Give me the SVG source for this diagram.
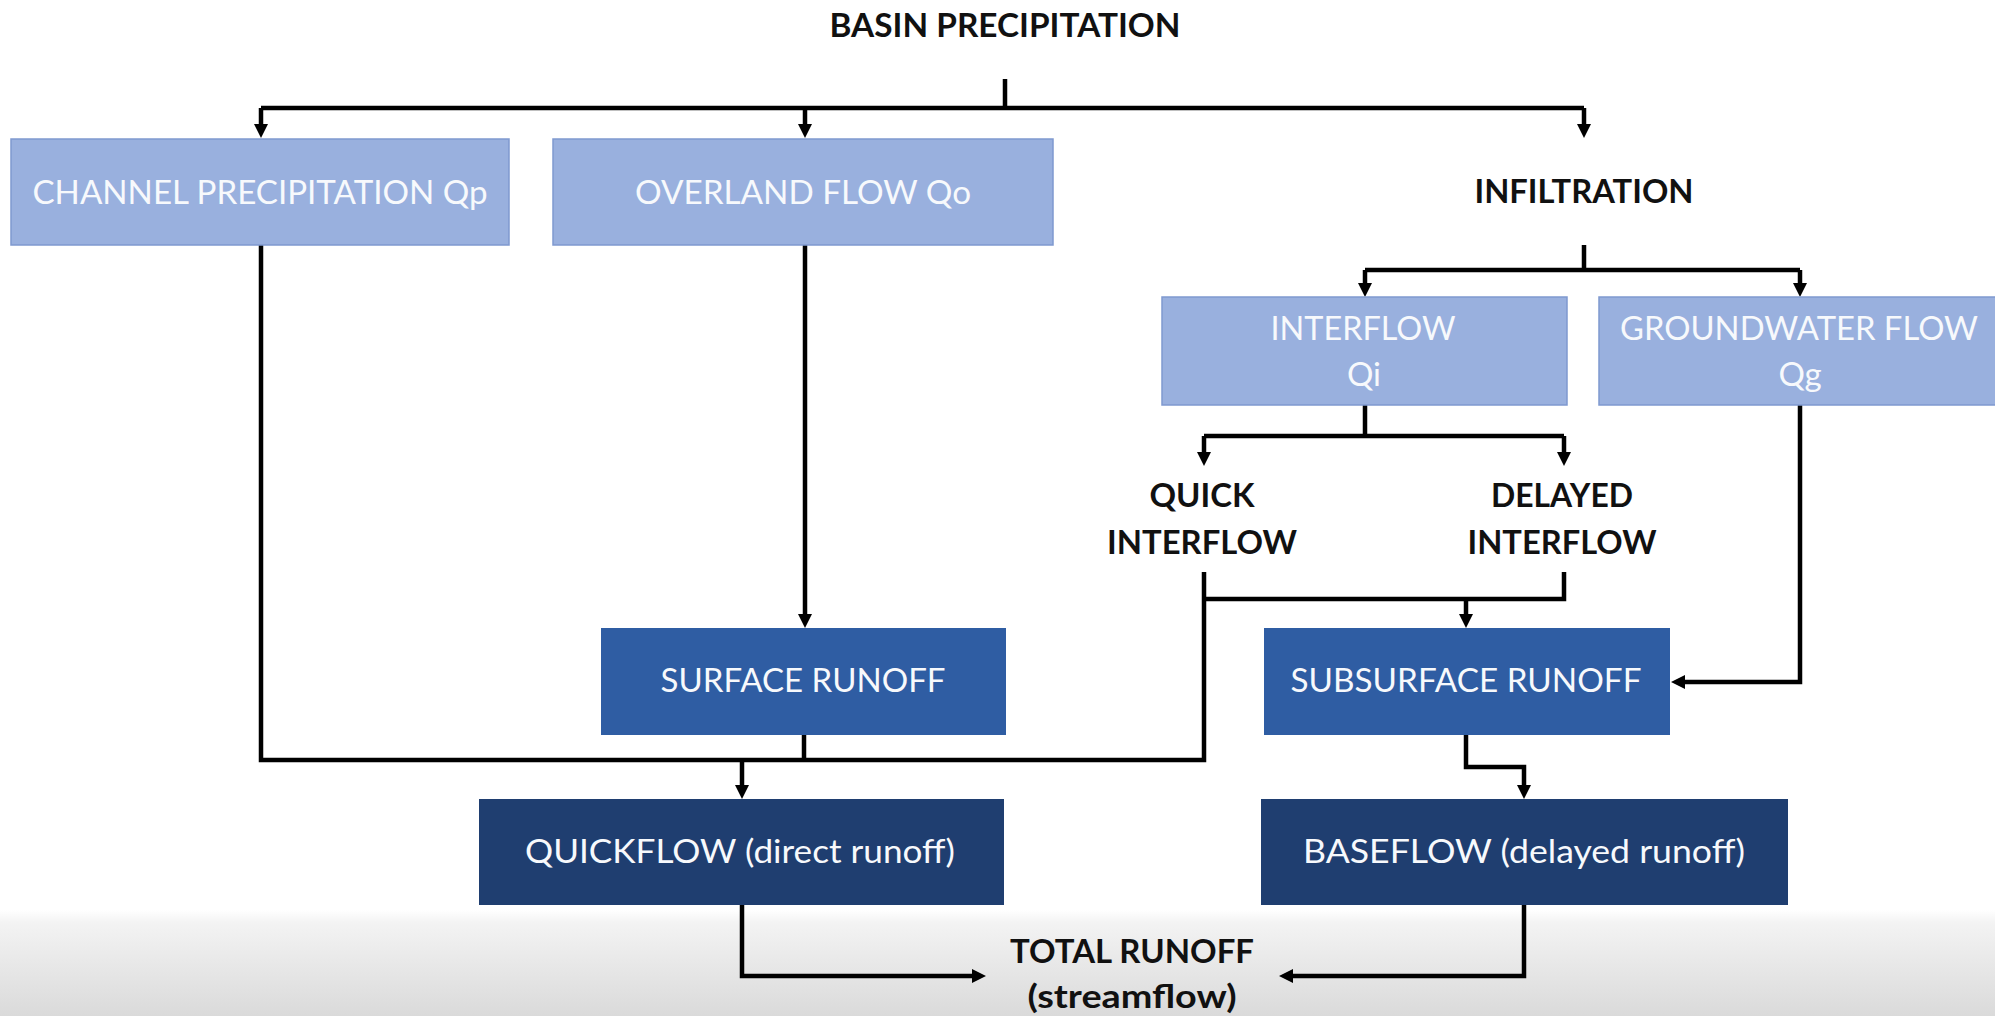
<svg xmlns="http://www.w3.org/2000/svg" width="1995" height="1016" viewBox="0 0 1995 1016">
<defs>
<linearGradient id="bg" x1="0" y1="0" x2="0" y2="1">
<stop offset="0" stop-color="#ffffff"/>
<stop offset="0.12" stop-color="#f3f3f3"/>
<stop offset="1" stop-color="#dadada"/>
</linearGradient>
<marker id="ah" viewBox="0 0 14 14" refX="0" refY="7" markerWidth="14" markerHeight="14" markerUnits="userSpaceOnUse" orient="auto">
<path d="M0,0 L14,7 L0,14 z" fill="#000"/>
</marker>
<style>
.light{fill:#99B0DE;stroke:#7F99CF;stroke-width:1.5}
.mid{fill:#2F5DA3}
.dark{fill:#1F3E70}
.wt{font-family:Lato,"Open Sans","Liberation Sans",sans-serif;font-size:33px;fill:#F7F9FC;text-anchor:middle}
.bt{font-family:Lato,"Open Sans","Liberation Sans",sans-serif;font-size:33px;font-weight:bold;fill:#111;text-anchor:middle}
.ln{fill:none;stroke:#000;stroke-width:4.5;stroke-linejoin:miter}
.ar{fill:none;stroke:#000;stroke-width:4.5;marker-end:url(#ah)}
</style>
</defs>
<rect x="0" y="0" width="1995" height="1016" fill="#fff"/>
<rect x="0" y="910" width="1995" height="106" fill="url(#bg)"/>

<g id="connectors">
<path class="ln" d="M1005,79 V108 M261,108 H1584"/>
<path class="ar" d="M261,108 V124"/>
<path class="ar" d="M805,108 V124"/>
<path class="ar" d="M1584,108 V124"/>
<path class="ln" d="M261,245 V760 H1204 V572"/>
<path class="ar" d="M805,245 V614"/>
<path class="ln" d="M804,735 V760"/>
<path class="ar" d="M742,760 V785"/>
<path class="ln" d="M1584,245 V270 M1365,270 H1800"/>
<path class="ar" d="M1365,270 V283"/>
<path class="ar" d="M1800,270 V283"/>
<path class="ln" d="M1365,405 V436 M1204,436 H1564"/>
<path class="ar" d="M1204,436 V452"/>
<path class="ar" d="M1564,436 V452"/>
<path class="ln" d="M1564,572 V599 H1204"/>
<path class="ar" d="M1466,599 V614"/>
<path class="ar" d="M1800,405 V682 H1685"/>
<path class="ar" d="M1466,734 V767 H1524 V785"/>
<path class="ar" d="M742,905 V976 H972"/>
<path class="ar" d="M1524,905 V976 H1293"/>
</g>

<g id="basin-precipitation">
<text class="bt" x="1005" y="37" textLength="351" lengthAdjust="spacingAndGlyphs">BASIN PRECIPITATION</text>
</g>
<g id="channel-precipitation">
<rect class="light" x="11" y="139" width="498" height="106"/>
<text class="wt" x="260" y="204" textLength="455" lengthAdjust="spacingAndGlyphs">CHANNEL PRECIPITATION Qp</text>
</g>
<g id="overland-flow">
<rect class="light" x="553" y="139" width="500" height="106"/>
<text class="wt" x="803" y="204" textLength="336" lengthAdjust="spacingAndGlyphs">OVERLAND FLOW Qo</text>
</g>
<g id="infiltration">
<text class="bt" x="1584" y="203" textLength="219" lengthAdjust="spacingAndGlyphs">INFILTRATION</text>
</g>
<g id="interflow">
<rect class="light" x="1162" y="297" width="405" height="108"/>
<text class="wt" x="1363" y="340" textLength="185" lengthAdjust="spacingAndGlyphs">INTERFLOW</text>
<text class="wt" x="1364" y="386">Qi</text>
</g>
<g id="groundwater-flow">
<rect class="light" x="1599" y="297" width="402" height="108"/>
<text class="wt" x="1799" y="340" textLength="358" lengthAdjust="spacingAndGlyphs">GROUNDWATER FLOW</text>
<text class="wt" x="1800" y="386">Qg</text>
</g>
<g id="quick-interflow">
<text class="bt" x="1202" y="507" textLength="105" lengthAdjust="spacingAndGlyphs">QUICK</text>
<text class="bt" x="1202" y="554" textLength="190" lengthAdjust="spacingAndGlyphs">INTERFLOW</text>
</g>
<g id="delayed-interflow">
<text class="bt" x="1562" y="507" textLength="142" lengthAdjust="spacingAndGlyphs">DELAYED</text>
<text class="bt" x="1562" y="554" textLength="189" lengthAdjust="spacingAndGlyphs">INTERFLOW</text>
</g>
<g id="surface-runoff">
<rect class="mid" x="601" y="628" width="405" height="107"/>
<text class="wt" x="803" y="692" textLength="285" lengthAdjust="spacingAndGlyphs">SURFACE RUNOFF</text>
</g>
<g id="subsurface-runoff">
<rect class="mid" x="1264" y="628" width="406" height="107"/>
<text class="wt" x="1466" y="692" textLength="351" lengthAdjust="spacingAndGlyphs">SUBSURFACE RUNOFF</text>
</g>
<g id="quickflow">
<rect class="dark" x="479" y="799" width="525" height="106"/>
<text class="wt" x="740" y="863" textLength="430" lengthAdjust="spacingAndGlyphs">QUICKFLOW (direct runoff)</text>
</g>
<g id="baseflow">
<rect class="dark" x="1261" y="799" width="527" height="106"/>
<text class="wt" x="1524" y="863" textLength="442" lengthAdjust="spacingAndGlyphs">BASEFLOW (delayed runoff)</text>
</g>
<g id="total-runoff">
<text class="bt" x="1132" y="963" textLength="244" lengthAdjust="spacingAndGlyphs">TOTAL RUNOFF</text>
<text class="bt" x="1132" y="1008" textLength="209" lengthAdjust="spacingAndGlyphs">(streamflow)</text>
</g>
</svg>
